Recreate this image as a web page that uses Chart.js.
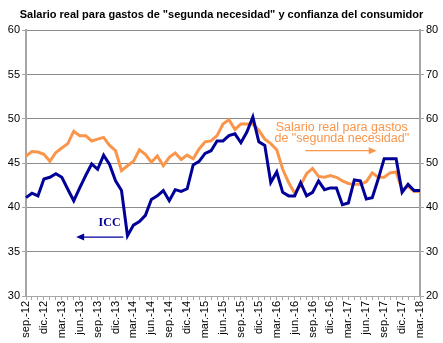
<!DOCTYPE html>
<html>
<head>
<meta charset="utf-8">
<script src="https://cdn.jsdelivr.net/npm/chart.js@4"></script>
<style>
  body { margin: 0; background: #fff; }
  #wrap { width: 443px; height: 343px; }
</style>
</head>
<body>
<div id="wrap"><canvas id="chart"></canvas></div>
<script>
// monthly, sep.-12 .. mar.-18
const monthNames = ['ene.', 'feb.', 'mar.', 'abr.', 'may.', 'jun.', 'jul.', 'ago.', 'sep.', 'oct.', 'nov.', 'dic.'];
const labels = [];
for (let i = 0; i < 67; i++) {
  const m = (8 + i) % 12;
  const yr = 12 + Math.floor((8 + i) / 12);
  labels.push(monthNames[m] + '-' + yr);
}

// ICC (left axis)
const icc = [
  41.1, 41.6, 41.3, 43.2, 43.4, 43.8, 43.4, 42.05, 40.75, 42.2,
  43.6, 44.9, 44.3, 45.9, 44.85, 43.0, 41.9, 36.8, 38.0, 38.4,
  39.1, 40.9, 41.3, 41.9, 40.75, 42.0, 41.8, 42.1, 44.8, 45.2,
  46.1, 46.4, 47.5, 47.5, 48.1, 48.3, 47.3, 48.5, 50.2, 47.4,
  47.0, 42.8, 44.0, 41.7, 41.3, 41.3, 42.8, 41.3, 41.7, 43.0,
  42.0, 42.2, 42.2, 40.3, 40.5, 43.1, 43.0, 40.95, 41.1, 43.2,
  45.5, 45.5, 45.5, 41.7, 42.6, 41.9, 41.9
];

// Salario real para gastos de "segunda necesidad" (right axis)
const salario = [
  51.6, 52.6, 52.5, 52.0, 50.4, 52.4, 53.4, 54.4, 57.2, 56.2,
  56.2, 55.0, 55.4, 55.8, 54.0, 52.8, 48.3, 49.4, 50.4, 53.0,
  52.0, 50.2, 51.6, 49.4, 51.3, 52.3, 50.8, 51.8, 51.0, 53.2,
  54.8, 55.0, 56.2, 58.8, 59.8, 57.6, 58.8, 58.8, 58.8, 57.4,
  55.4, 54.4, 53.0, 48.6, 45.6, 43.2, 45.0, 47.6, 48.8, 47.0,
  46.8, 47.2, 46.8, 46.0, 45.4, 45.2, 45.2, 45.8, 47.8, 46.8,
  46.8, 47.8, 48.0, 44.0, 44.8, 43.6, 43.6
];

const BLUE = '#000099';
const ORANGE = '#F9964B';
const AXIS = '#a6a6a6';
const FONT = "'Liberation Sans', Arial, sans-serif";

function arrow(ctx, x1, x2, y, color) {
  const dir = x2 > x1 ? 1 : -1;
  ctx.strokeStyle = color;
  ctx.fillStyle = color;
  ctx.lineWidth = 1.2;
  ctx.beginPath();
  ctx.moveTo(x1, y);
  ctx.lineTo(x2 - dir * 6, y);
  ctx.stroke();
  ctx.beginPath();
  ctx.moveTo(x2, y);
  ctx.lineTo(x2 - dir * 8, y - 3.5);
  ctx.lineTo(x2 - dir * 8, y + 3.5);
  ctx.closePath();
  ctx.fill();
}

// text labels and arrows, placed in data coordinates
const annotations = {
  id: 'annotations',
  afterDatasetsDraw(chart) {
    const { ctx, scales: { x, y } } = chart;
    ctx.save();
    ctx.textAlign = 'center';
    ctx.textBaseline = 'middle';

    ctx.fillStyle = BLUE;
    ctx.font = "bold 12px 'Liberation Serif', 'Times New Roman', serif";
    ctx.fillText('ICC', x.getPixelForValue(14), y.getPixelForValue(38.2));
    arrow(ctx, x.getPixelForValue(16.3), x.getPixelForValue(8.4), y.getPixelForValue(36.65), BLUE);

    ctx.fillStyle = ORANGE;
    ctx.font = '12.5px ' + FONT;
    ctx.fillText('Salario real para gastos', x.getPixelForValue(52.9), y.getPixelForValue(49.0));
    ctx.fillText('de "segunda necesidad"', x.getPixelForValue(52.9), y.getPixelForValue(47.75));
    arrow(ctx, x.getPixelForValue(46.8), x.getPixelForValue(58.75), y.getPixelForValue(46.4), ORANGE);
    ctx.restore();
  }
};

new Chart(document.getElementById('chart'), {
  type: 'line',
  data: {
    labels: labels,
    datasets: [
      {
        label: 'ICC',
        data: icc,
        yAxisID: 'y',
        borderColor: BLUE,
        borderWidth: 3,
        pointRadius: 0,
        tension: 0
      },
      {
        label: 'Salario real para gastos de "segunda necesidad"',
        data: salario,
        yAxisID: 'y1',
        borderColor: ORANGE,
        borderWidth: 3,
        pointRadius: 0,
        tension: 0
      }
    ]
  },
  options: {
    responsive: true,
    maintainAspectRatio: false,
    animation: false,
    layout: { padding: 0 },
    plugins: {
      legend: { display: false },
      tooltip: { enabled: false },
      title: {
        display: true,
        text: 'Salario real para gastos de "segunda necesidad" y confianza del consumidor',
        color: '#000',
        font: { family: FONT, size: 11, weight: 'bold' },
        padding: { top: 8, bottom: 9 }
      }
    },
    scales: {
      x: {
        offset: false,
        grid: { display: true, drawOnChartArea: false, tickLength: 4, color: AXIS },
        border: { color: AXIS, width: 1 },
        ticks: {
          autoSkip: false,
          maxRotation: 90,
          minRotation: 90,
          padding: 1,
          color: '#000',
          font: { family: FONT, size: 11 },
          callback: function (value, index) {
            return index % 3 === 0 ? this.getLabelForValue(value) : '';
          }
        },
        afterFit: (scale) => { scale.height = 47; }
      },
      y: {
        position: 'left',
        min: 30,
        max: 60,
        grid: {
          color: '#8c8c8c',
          borderDash: [4, 3],
          tickBorderDash: [],
          tickColor: AXIS,
          tickLength: 4
        },
        border: { color: AXIS, width: 2 },
        ticks: {
          stepSize: 5,
          padding: 2,
          color: '#000',
          font: { family: FONT, size: 11 }
        },
        afterFit: (scale) => { scale.width = 26; }
      },
      y1: {
        position: 'right',
        min: 20,
        max: 80,
        grid: { drawOnChartArea: false, color: AXIS, tickLength: 4 },
        border: { color: AXIS, width: 2 },
        ticks: {
          stepSize: 10,
          padding: 2,
          color: '#000',
          font: { family: FONT, size: 11 }
        },
        afterFit: (scale) => { scale.width = 23; }
      }
    }
  },
  plugins: [annotations]
});
</script>
</body>
</html>
